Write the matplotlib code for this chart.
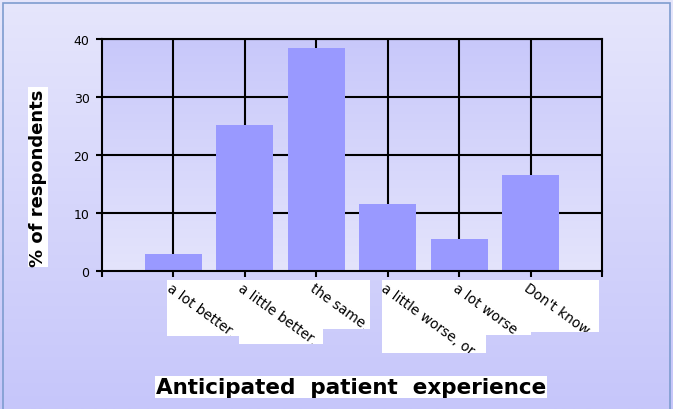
import numpy as np
import matplotlib
matplotlib.use("Agg")
import matplotlib.pyplot as plt
from matplotlib.patches import Rectangle
from matplotlib.transforms import Bbox

# Survey responses
categories = ["a lot better,", "a little better,", "the same,",
              "a little worse, or", "a lot worse,", "Don't know"]
percent = [3.0, 25.2, 38.4, 11.6, 5.6, 16.6]
y_ticks = [0, 10, 20, 30, 40]

W, H, DPI = 673, 410, 100
fig = plt.figure(figsize=(W / DPI, H / DPI), dpi=DPI)

# Figure background: vertical lavender gradient
bg = fig.add_axes([0, 0, 1, 1], zorder=-10)
grad = np.linspace(0, 1, 256)[:, None]
top_c = np.array([230, 230, 252]) / 255
bot_c = np.array([198, 198, 250]) / 255
img = top_c[None, None, :] * (1 - grad[..., None]) + bot_c[None, None, :] * grad[..., None]
bg.imshow(img, aspect="auto", extent=[0, 1, 0, 1], origin="upper")
bg.set_xlim(0, 1); bg.set_ylim(0, 1)
bg.axis("off")
bg.add_patch(Rectangle((0.004, -0.01), 0.992, 1.0, transform=bg.transAxes,
                       fill=False, edgecolor="#7e9ccf", lw=1.2))

ax = fig.add_axes([102 / W, 1 - 272 / H, 500 / W, 232 / H])
ax.set_xlim(0, len(categories) + 1)
ax.set_ylim(0, 40)

# Plot area gradient (darker at top)
pa_top = np.array([200, 200, 250]) / 255
pa_bot = np.array([228, 228, 252]) / 255
img2 = pa_top[None, None, :] * (1 - grad[..., None]) + pa_bot[None, None, :] * grad[..., None]
ax.imshow(img2, aspect="auto", extent=[0, len(categories) + 1, 0, 40],
          origin="upper", zorder=0)

x = np.arange(1, len(categories) + 1)
ax.bar(x, percent, width=0.8, color="#9999ff", zorder=2)

# Grid
for xv in x:
    ax.axvline(xv, color="black", lw=1.5, zorder=1)
for yv in y_ticks[1:]:
    ax.axhline(yv, color="black", lw=1.5, zorder=1)

for s in ax.spines.values():
    s.set_linewidth(1.5)
    s.set_color("black")
    s.set_zorder(3)

ax.set_yticks(y_ticks)
ax.set_yticklabels([str(v) for v in y_ticks], fontsize=9)
ax.set_xticks(np.arange(0, len(categories) + 2))
ax.set_xticklabels([])
ax.tick_params(axis="both", direction="out", length=4, width=1.5, color="black")
ax.tick_params(axis="y", pad=5)

# Rotated category labels on white boxes (pixel layout relative to ticks)
box_w = [72, 84, 60, 104, 78, 74]
box_h = [56, 64, 49, 73, 55, 52]
for xi, lab, bw, bh in zip(x, categories, box_w, box_h):
    tx, ty = ax.transData.transform((xi, 0))
    left = tx - 6
    top = ty - 9
    fig.patches.append(Rectangle((left, top - bh), bw, bh, transform=None,
                                 facecolor="white", edgecolor="none", zorder=1))
    t = fig.text(left + 5, top, lab, transform=None, rotation=-36,
                 rotation_mode="anchor", ha="left", va="top", fontsize=9.8,
                 zorder=2)
    t.set_clip_box(Bbox.from_bounds(left, top - bh, bw, bh))
    t.set_clip_on(True)

fig.text(38 / W, 1 - 178 / H, "% of respondents", rotation=90, ha="center",
         va="center", fontsize=13, fontweight="bold",
         bbox=dict(facecolor="white", edgecolor="none", pad=1))
fig.text(351 / W, 1 - 388 / H, "Anticipated  patient  experience", ha="center",
         va="center", fontsize=15.5, fontweight="bold",
         bbox=dict(facecolor="white", edgecolor="none", pad=0.5))

fig.savefig("out.png", dpi=DPI)
